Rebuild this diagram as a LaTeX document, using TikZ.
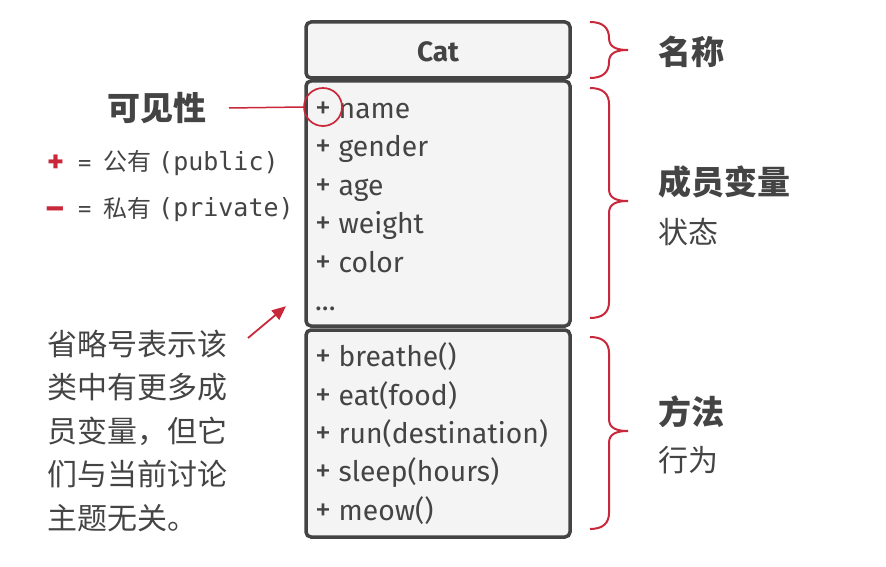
\documentclass[tikz,border=0pt]{standalone}
\usepackage{fontspec}
\setmainfont{Fira Sans}
\setmonofont{DejaVu Sans Mono}
\newfontfamily\cjk{Noto Sans CJK SC}
\usetikzlibrary{arrows.meta}
\definecolor{txt}{HTML}{444444}
\definecolor{accent}{HTML}{C8283A}
\definecolor{boxfill}{HTML}{F4F4F4}
\newcommand{\curlybr}[3]{%
  \draw[bracestyle] (590,#1) .. controls (603,#1) and (609,#1+6) .. (609,#1+16)
    -- (609,#3-12) .. controls (609,#3-3) and (616,#3) .. (628,#3)
    .. controls (616,#3) and (609,#3+3) .. (609,#3+12)
    -- (609,#2-16) .. controls (609,#2-6) and (603,#2) .. (590,#2);}
\newcommand{\pl}{{\fontsize{32}{30}\selectfont +}}
\begin{document}
\begin{tikzpicture}[x=1pt,y=-1pt,
  compart/.style={draw=txt, fill=boxfill, line width=3.5pt, rounded corners=5pt},
  item/.style={anchor=base west, inner sep=0pt, text=txt, font=\fontsize{28.3}{30}\selectfont},
  bracestyle/.style={draw=accent, line width=2pt},
  lbl/.style={anchor=west, inner sep=0pt, text=txt, font=\cjk\bfseries\fontsize{33}{36}\selectfont},
  sublbl/.style={anchor=west, inner sep=0pt, text=txt, font=\cjk\fontsize{30}{33}\selectfont},
  leg/.style={anchor=base west, inner sep=0pt, text=txt},
]
\useasboundingbox (0,0) rectangle (886,567);

% class box
\draw[compart] (306,22) rectangle (570,78);
\draw[compart] (306,81) rectangle (570,326);
\draw[compart] (306,330) rectangle (570,537);
\node[anchor=base, inner sep=0pt, text=txt, font=\bfseries\fontsize{28}{30}\selectfont] (cat) at (438,62) {Cat};

\node[item] (a1) at (315,119) {\pl\ name};
\node[item] (a2) at (315,157) {\pl\ gender};
\node[item] (a3) at (315,195) {\pl\ age};
\node[item] (a4) at (315,233) {\pl\ weight};
\node[item] (a5) at (315,272) {\pl\ color};
\node[item] (a6) at (315,310) {...};

\node[item] (m1) at (315,366) {\pl\ breathe()};
\node[item] (m2) at (315,405) {\pl\ eat(food)};
\node[item] (m3) at (315,443) {\pl\ run(destination)};
\node[item] (m4) at (315,481) {\pl\ sleep(hours)};
\node[item] (m5) at (315,520) {\pl\ meow()};

% visibility
\node[lbl, anchor=center] (vis) at (157,108) {可见性};
\node[circle, draw=accent, line width=1.7pt, minimum size=38pt, inner sep=0pt] (circ) at (323,107) {};
\draw[accent, line width=1.5pt] (229,108) -- (circ.west);

\node[leg, text=accent, font=\bfseries\fontsize{32}{34}\selectfont] (plus) at (47,172) {+};
\node[leg, font=\ttfamily\fontsize{22}{24}\selectfont] (eq1) at (78,170) {=};
\node[leg, font=\cjk\fontsize{24}{26}\selectfont] (pub) at (103,171) {公有};
\node[leg, font=\ttfamily\fontsize{25}{26}\selectfont] (pubt) at (158,170) {(public)};

\node[leg, text=accent, font=\bfseries\fontsize{34}{36}\selectfont] (minus) at (46,219) {–};
\node[leg, font=\ttfamily\fontsize{22}{24}\selectfont] (eq2) at (78,216) {=};
\node[leg, font=\cjk\fontsize{24}{26}\selectfont] (priv) at (103,217) {私有};
\node[leg, font=\ttfamily\fontsize{25}{26}\selectfont] (privt) at (158,216) {(private)};

% ellipsis note
\node[anchor=base west, inner sep=0pt, text=txt, align=left, font=\cjk\fontsize{30}{43.5}\selectfont] (note) at (47,529)
  {省略号表示该\\类中有更多成\\员变量，但它\\们与当前讨论\\主题无关。};
\coordinate (arrtail) at (248,338);
\draw[accent, line width=1.8pt, -{Triangle[length=14pt,width=12pt]}] (arrtail) -- (a6.north -| 286,309);

% braces
\curlybr{22}{78}{50}
\curlybr{88}{318}{201}
\curlybr{337}{529}{431}

\node[lbl] (nm) at (658,52) {名称};
\node[lbl] (mv) at (658,182) {成员变量};
\node[sublbl] (st) at (658,232) {状态};
\node[lbl] (me) at (658,412) {方法};
\node[sublbl] (bh) at (658,460) {行为};
\end{tikzpicture}
\end{document}
